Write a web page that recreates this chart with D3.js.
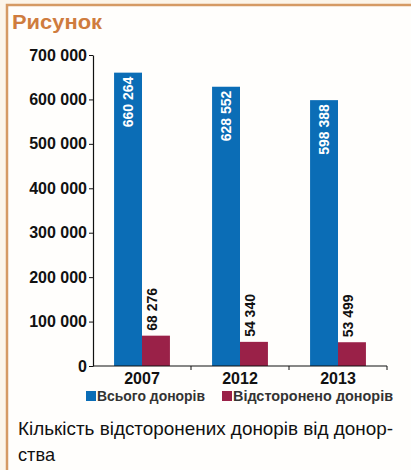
<!DOCTYPE html>
<html>
<head>
<meta charset="utf-8">
<script src="https://cdn.jsdelivr.net/npm/d3@7"></script>
<style>
  body { margin: 0; background: #fcf5ea; }
  svg { display: block; font-family: "Liberation Sans", Arial, sans-serif; }
</style>
</head>
<body>
<div id="chart"></div>
<script>
var years = ["2007", "2012", "2013"];
var totalDonors = [660264, 628552, 598388];
var removedDonors = [68276, 54340, 53499];
var yTicks = [0, 100000, 200000, 300000, 400000, 500000, 600000, 700000];
var seriesNames = ["Всього донорів", "Відсторонено донорів"];
var colors = ["#0b6db6", "#9a2148"];

var w = 411, h = 470;
var fmt = function (v) { return d3.format(",")(v).replace(/,/g, " "); };

var svg = d3.select("#chart").append("svg")
  .attr("width", w)
  .attr("height", h);

// frame
svg.append("rect")
  .attr("x", 7).attr("y", 5)
  .attr("width", 420).attr("height", 480)
  .attr("fill", "#fffefc")
  .attr("stroke", "#d59a64")
  .attr("stroke-width", 2.5);

svg.append("text")
  .attr("x", 12).attr("y", 29)
  .attr("fill", "#cf7c3e")
  .attr("font-size", 20)
  .attr("font-weight", "bold")
  .attr("textLength", 90)
  .attr("lengthAdjust", "spacingAndGlyphs")
  .text("Рисунок");

var x = d3.scaleBand()
  .domain(years)
  .range([93, 387])
  .paddingInner(0.43)
  .paddingOuter(0.215);

var xSub = d3.scaleBand()
  .domain([0, 1])
  .range([0, x.bandwidth()]);

var y = d3.scaleLinear()
  .domain([0, 700000])
  .range([366, 55]);

// y axis
var yAxis = d3.axisLeft(y)
  .tickValues(yTicks)
  .tickSize(4)
  .tickSizeOuter(0)
  .tickFormat(fmt);

var gy = svg.append("g")
  .attr("transform", "translate(93,0)")
  .call(yAxis);
gy.select(".domain").attr("stroke", "#111").attr("stroke-width", 1.2);
gy.selectAll(".tick line").attr("stroke", "#111");
gy.selectAll(".tick text")
  .attr("font-size", 16)
  .attr("font-weight", "bold")
  .attr("fill", "#111")
  .attr("x", -6);

// bars
var groups = svg.selectAll(".grp")
  .data(years)
  .enter().append("g")
  .attr("transform", function (d) { return "translate(" + x(d) + ",0)"; });

groups.append("rect")
  .attr("x", xSub(0))
  .attr("width", xSub.bandwidth())
  .attr("y", function (d, i) { return y(totalDonors[i]); })
  .attr("height", function (d, i) { return y(0) - y(totalDonors[i]); })
  .attr("fill", colors[0]);

groups.append("rect")
  .attr("x", xSub(1))
  .attr("width", xSub.bandwidth())
  .attr("y", function (d, i) { return y(removedDonors[i]); })
  .attr("height", function (d, i) { return y(0) - y(removedDonors[i]); })
  .attr("fill", colors[1]);

// value labels
groups.append("text")
  .attr("transform", function (d, i) {
    return "translate(" + (xSub(0) + xSub.bandwidth() / 2 + 5) + "," + (y(totalDonors[i]) + 4) + ") rotate(-90)";
  })
  .attr("text-anchor", "end")
  .attr("font-size", 14)
  .attr("font-weight", "bold")
  .attr("fill", "#fff")
  .text(function (d, i) { return fmt(totalDonors[i]); });

groups.append("text")
  .attr("transform", function (d, i) {
    return "translate(" + (xSub(1) + xSub.bandwidth() / 2 + 1) + "," + (y(removedDonors[i]) - 5) + ") rotate(-90)";
  })
  .attr("text-anchor", "start")
  .attr("font-size", 14)
  .attr("font-weight", "bold")
  .attr("fill", "#111")
  .text(function (d, i) { return fmt(removedDonors[i]); });

// x axis
var step = x.step();
svg.append("line")
  .attr("x1", 93).attr("x2", 387)
  .attr("y1", y(0)).attr("y2", y(0))
  .attr("stroke", "#111").attr("stroke-width", 1.2);

svg.selectAll(".xtick")
  .data(years)
  .enter().append("line")
  .attr("x1", function (d) { return x(d) + x.bandwidth() + (step - x.bandwidth()) / 2; })
  .attr("x2", function (d) { return x(d) + x.bandwidth() + (step - x.bandwidth()) / 2; })
  .attr("y1", y(0)).attr("y2", y(0) + 4)
  .attr("stroke", "#111");

svg.selectAll(".xlab")
  .data(years)
  .enter().append("text")
  .attr("x", function (d) { return x(d) + x.bandwidth() / 2; })
  .attr("y", 384)
  .attr("text-anchor", "middle")
  .attr("font-size", 16)
  .attr("font-weight", "bold")
  .attr("fill", "#111")
  .text(function (d) { return d; });

// legend
var legX = [86, 222];
var legW = [108, 160];
var leg = svg.selectAll(".leg")
  .data(seriesNames)
  .enter().append("g")
  .attr("transform", function (d, i) { return "translate(" + legX[i] + ",391)"; });
leg.append("rect")
  .attr("width", 10).attr("height", 10)
  .attr("fill", function (d, i) { return colors[i]; });
leg.append("text")
  .attr("x", 11).attr("y", 10)
  .attr("font-size", 14)
  .attr("font-weight", "bold")
  .attr("fill", "#333")
  .attr("textLength", function (d, i) { return legW[i]; })
  .attr("lengthAdjust", "spacingAndGlyphs")
  .text(function (d) { return d; });

// caption
svg.append("text")
  .attr("x", 18).attr("y", 435)
  .attr("font-size", 19)
  .attr("fill", "#111")
  .attr("textLength", 375)
  .attr("lengthAdjust", "spacingAndGlyphs")
  .text("Кількість відсторонених донорів від донор-");
svg.append("text")
  .attr("x", 18).attr("y", 461)
  .attr("font-size", 19)
  .attr("fill", "#111")
  .attr("textLength", 37)
  .attr("lengthAdjust", "spacingAndGlyphs")
  .text("ства");
</script>
</body>
</html>
